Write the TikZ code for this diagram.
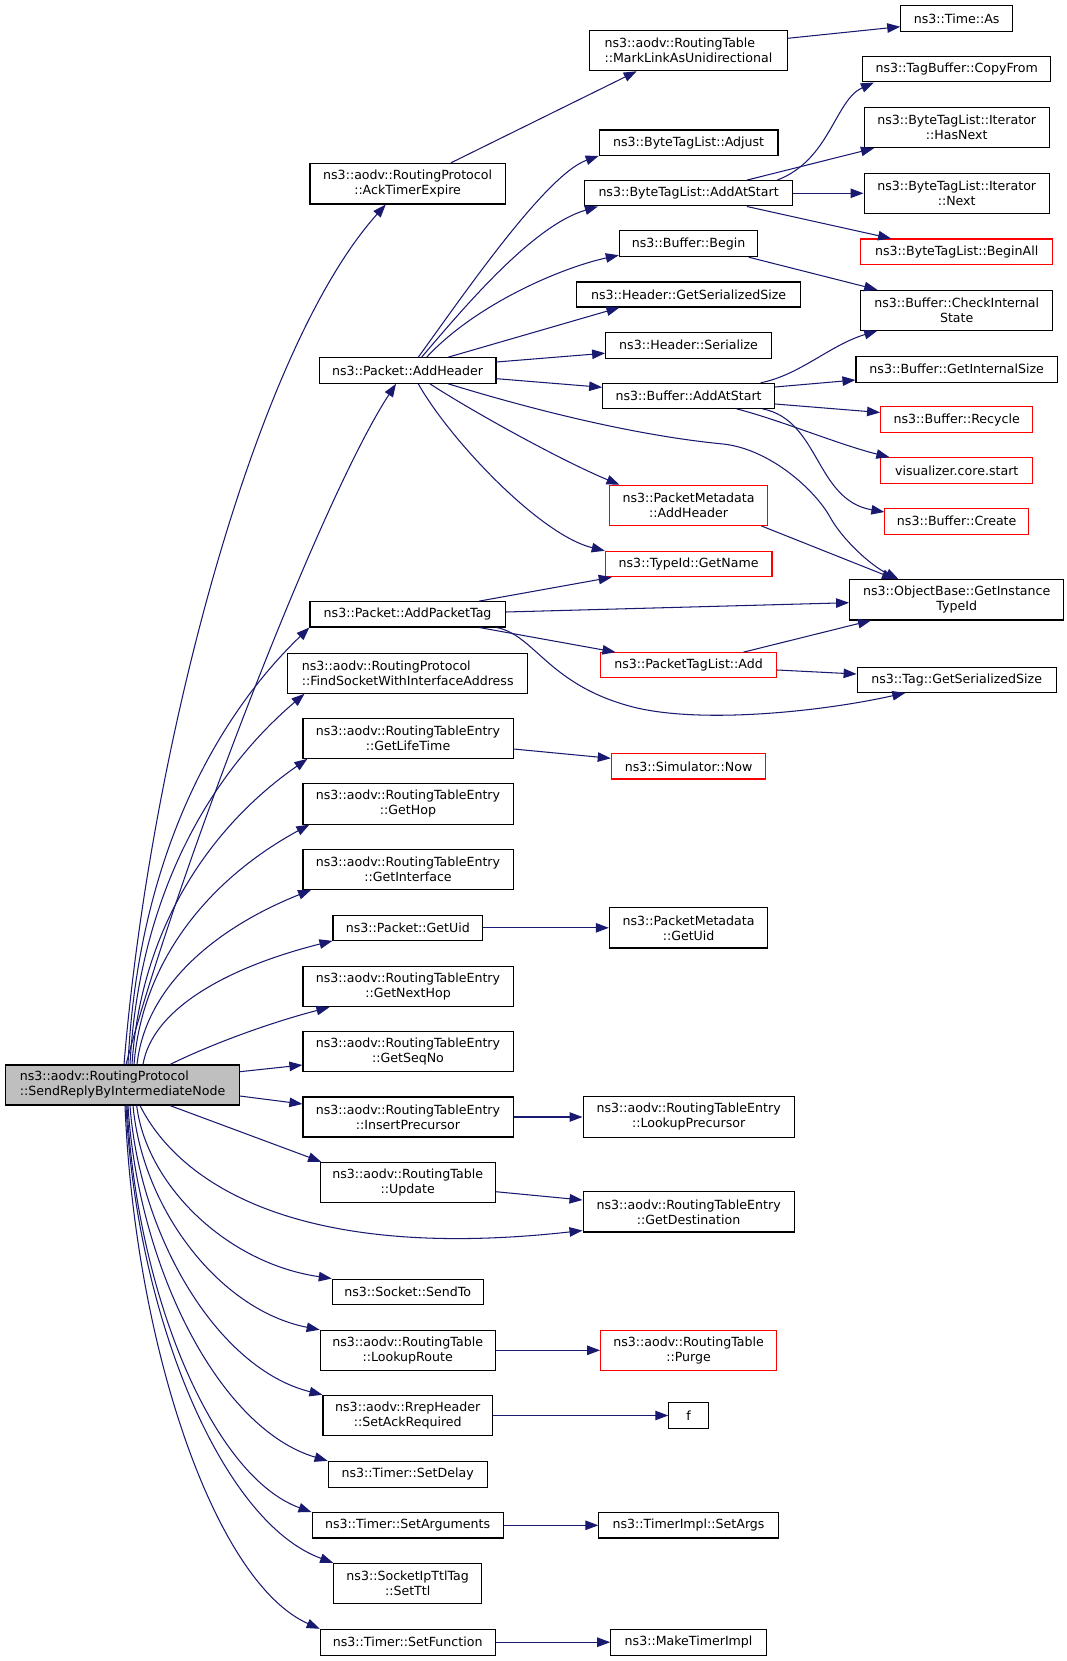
\documentclass[tikz,border=0pt]{standalone}
\usepackage{fontspec}
\setmainfont{DejaVu Sans}
\usetikzlibrary{arrows.meta,calc}
\definecolor{edgec}{HTML}{191970}
\definecolor{mainfill}{HTML}{BFBFBF}
\tikzset{
  fn/.style={draw=black, line width=1.1pt, fill=white, inner sep=0pt, align=center,
    font=\fontsize{12.6}{15}\selectfont, text=black},
  rn/.style={fn, draw=red},
  ln/.style={fn, align=left},
  ed/.style={draw=edgec, line width=1.05pt, -{Triangle[length=13pt,width=9.5pt]}},
  sz/.style 2 args={minimum width=#1pt, minimum height=#2pt}
}
\begin{document}
\begin{tikzpicture}[x=1pt,y=-1pt]
\useasboundingbox (0,0) rectangle (1067,1661);
% column 1
\node[ln, fill=mainfill, sz={233.4}{40}] (main) at (122.6,1085) {ns3::aodv::RoutingProtocol\\::SendReplyByIntermediateNode};
% column 2
\node[fn, sz={195.3}{40.7}] (ack) at (407.6,183.7) {ns3::aodv::RoutingProtocol\\::AckTimerExpire};
\node[fn, sz={176.7}{25.6}] (addh) at (407.6,370.5) {ns3::Packet::AddHeader};
\node[fn, sz={195.3}{25.3}] (apt) at (407.6,614.3) {ns3::Packet::AddPacketTag};
\node[ln, sz={240.4}{40}] (find) at (407.7,673.3) {ns3::aodv::RoutingProtocol\\::FindSocketWithInterfaceAddress};
\node[fn, sz={210.1}{40}] (life) at (408,738.3) {ns3::aodv::RoutingTableEntry\\::GetLifeTime};
\node[fn, sz={210.1}{40.7}] (hop) at (408,803.7) {ns3::aodv::RoutingTableEntry\\::GetHop};
\node[fn, sz={210.1}{40.3}] (iface) at (408,869.2) {ns3::aodv::RoutingTableEntry\\::GetInterface};
\node[fn, sz={149.8}{25}] (uid) at (407.9,927.8) {ns3::Packet::GetUid};
\node[fn, sz={210.1}{40}] (nexthop) at (408,986.7) {ns3::aodv::RoutingTableEntry\\::GetNextHop};
\node[fn, sz={210.1}{40}] (seqno) at (408,1051.7) {ns3::aodv::RoutingTableEntry\\::GetSeqNo};
\node[fn, sz={210.1}{40}] (insprec) at (408,1117) {ns3::aodv::RoutingTableEntry\\::InsertPrecursor};
\node[fn, sz={175}{40}] (update) at (407.7,1182.3) {ns3::aodv::RoutingTable\\::Update};
\node[fn, sz={150.8}{25.3}] (sendto) at (407.7,1291.7) {ns3::Socket::SendTo};
\node[fn, sz={175}{40}] (lookup) at (407.7,1350.3) {ns3::aodv::RoutingTable\\::LookupRoute};
\node[fn, sz={169.4}{40.4}] (ackreq) at (407.7,1415.5) {ns3::aodv::RrepHeader\\::SetAckRequired};
\node[fn, sz={159.1}{25.7}] (delay) at (407.7,1474.2) {ns3::Timer::SetDelay};
\node[fn, sz={191.1}{25.3}] (args) at (407.6,1525.3) {ns3::Timer::SetArguments};
\node[fn, sz={148}{40.4}] (ttl) at (407.7,1583.5) {ns3::SocketIpTtlTag\\::SetTtl};
\node[fn, sz={175}{25.7}] (func) at (407.7,1642.2) {ns3::Timer::SetFunction};
% column 3
\node[ln, sz={197.6}{40}] (mark) at (688.4,50.7) {ns3::aodv::RoutingTable\\::MarkLinkAsUnidirectional};
\node[fn, sz={178.7}{25.3}] (adjust) at (688.6,142.7) {ns3::ByteTagList::Adjust};
\node[fn, sz={208.3}{25.3}] (btlstart) at (688.6,193.3) {ns3::ByteTagList::AddAtStart};
\node[fn, sz={138.5}{25.7}] (begin) at (688.6,243.8) {ns3::Buffer::Begin};
\node[fn, sz={224.2}{25}] (hgss) at (688.6,294.5) {ns3::Header::GetSerializedSize};
\node[fn, sz={165.9}{25.7}] (hser) at (688.6,345.2) {ns3::Header::Serialize};
\node[fn, sz={171.8}{25}] (bstart) at (688.6,395.8) {ns3::Buffer::AddAtStart};
\node[rn, sz={158.1}{40}] (pmah) at (688.6,505.3) {ns3::PacketMetadata\\::AddHeader};
\node[rn, sz={166.7}{25.4}] (getname) at (688.6,564) {ns3::TypeId::GetName};
\node[rn, sz={176}{25}] (ptladd) at (688.6,665.2) {ns3::PacketTagList::Add};
\node[rn, sz={154.6}{25.3}] (now) at (688.6,766.3) {ns3::Simulator::Now};
\node[fn, sz={158.5}{40.3}] (pmuid) at (688.6,927.8) {ns3::PacketMetadata\\::GetUid};
\node[fn, sz={211.1}{40.3}] (lookprec) at (688.6,1117) {ns3::aodv::RoutingTableEntry\\::LookupPrecursor};
\node[fn, sz={211.1}{40.3}] (dest) at (688.6,1211.8) {ns3::aodv::RoutingTableEntry\\::GetDestination};
\node[rn, sz={176}{40}] (purge) at (688.6,1350.3) {ns3::aodv::RoutingTable\\::Purge};
\node[fn, sz={39.6}{25.3}] (f) at (688.6,1415.5) {f};
\node[fn, sz={179.4}{25.3}] (setargs) at (688.6,1525.3) {ns3::TimerImpl::SetArgs};
\node[fn, sz={155.7}{25.7}] (mti) at (688.6,1642.2) {ns3::MakeTimerImpl};
% column 4
\node[fn, sz={111.9}{25.6}] (timeas) at (956.7,18.5) {ns3::Time::As};
\node[fn, sz={188.1}{25.3}] (copyfrom) at (956.7,69.3) {ns3::TagBuffer::CopyFrom};
\node[fn, sz={185.3}{40}] (hasnext) at (956.7,127.7) {ns3::ByteTagList::Iterator\\::HasNext};
\node[fn, sz={185.3}{40}] (next) at (956.7,193.3) {ns3::ByteTagList::Iterator\\::Next};
\node[rn, sz={192.1}{25.3}] (beginall) at (956.7,251.7) {ns3::ByteTagList::BeginAll};
\node[fn, sz={191.8}{40}] (check) at (956.7,310.3) {ns3::Buffer::CheckInternal\\State};
\node[fn, sz={201.4}{25.7}] (gis) at (956.7,369.2) {ns3::Buffer::GetInternalSize};
\node[rn, sz={152.2}{26}] (recycle) at (956.7,419.7) {ns3::Buffer::Recycle};
\node[rn, sz={152.2}{25.6}] (vis) at (956.7,470.5) {visualizer.core.start};
\node[rn, sz={143.6}{25.7}] (create) at (956.7,521.2) {ns3::Buffer::Create};
\node[fn, sz={214.1}{40.3}] (objb) at (956.7,599.8) {ns3::ObjectBase::GetInstance\\TypeId};
\node[fn, sz={199.1}{25.3}] (tag) at (956.7,679.7) {ns3::Tag::GetSerializedSize};
% edges from main, upward
\draw[ed] ($(main.north)+(1.4,0)$) .. controls (150,750) and (255,350) .. ($(ack.south)+(-21.9,0)$);
\draw[ed] ($(main.north)+(3.4,0)$) .. controls (175,880) and (320,500) .. ($(addh.south)+(-11.6,0)$);
\draw[ed] ($(main.north)+(5.4,0)$) .. controls (137.1,867.9) and (209.9,723.4) .. (apt.south west);
\draw[ed] ($(main.north)+(7.4,0)$) .. controls (138.8,897.7) and (208.8,775.1) .. ($(find.south west)+(17.5,0)$);
\draw[ed] ($(main.north)+(9.4,0)$) .. controls (140.8,927) and (211.2,825.8) .. ($(life.south west)+(5,0)$);
\draw[ed] ($(main.north)+(11.4,0)$) .. controls (142.8,956.5) and (213.2,877) .. ($(hop.south west)+(7,0)$);
\draw[ed] ($(main.north)+(14.4,0)$) .. controls (145.7,986) and (215.6,928) .. ($(iface.south west)+(8.7,0)$);
\draw[ed] ($(main.north)+(20.4,0)$) .. controls (152.5,1008.5) and (228,967.1) .. (uid.south west);
\draw[ed] ($(main.north)+(47.4,0)$) .. controls (220,1040) and (280,1020) .. ($(nexthop.south west)+(27,0)$);
\draw[ed] ($(main.east)+(0,-13.3)$) -- ($(seqno.west)+(0,13.3)$);
\draw[ed] ($(main.east)+(0,11)$) -- ($(insprec.west)+(0,-13)$);
% edges from main, downward
\draw[ed] ($(main.south)+(47.4,0)$) -- ($(update.north west)+(1.5,0)$);
\draw[ed] ($(main.south)+(17.4,0)$) .. controls (180,1185) and (300,1262) .. ($(dest.south west)+(0,-2)$);
\draw[ed] ($(main.south)+(14.1,0)$) .. controls (146.5,1185) and (226.7,1263.3) .. (sendto.north west);
\draw[ed] ($(main.south)+(10.4,0)$) .. controls (142.4,1208.6) and (219.1,1310) .. (lookup.north west);
\draw[ed] ($(main.south)+(7.4,0)$) .. controls (139.7,1238.5) and (218.8,1369.2) .. (ackreq.north west);
\draw[ed] ($(main.south)+(5.4,0)$) .. controls (138,1268.9) and (220.1,1429.2) .. (delay.north west);
\draw[ed] ($(main.south)+(4.4,0)$) .. controls (136.3,1292.5) and (212.1,1476) .. (args.north west);
\draw[ed] ($(main.south)+(3.4,0)$) .. controls (136.4,1315.8) and (221.5,1522.1) .. (ttl.north west);
\draw[ed] ($(main.south)+(2.4,0)$) .. controls (134.8,1346.2) and (214.8,1582.1) .. (func.north west);
% other edges
\draw[ed] ($(ack.north)+(43.4,0)$) -- ($(mark.south)+(-51.7,0)$);
\draw[ed] ($(mark.east)+(0,-12.4)$) -- ($(timeas.west)+(0,8.2)$);
\draw[ed] ($(addh.north)+(10.7,0)$) .. controls (460,300) and (545,175) .. (adjust.south west);
\draw[ed] ($(addh.north)+(14.1,0)$) .. controls (470,300) and (535,225) .. ($(btlstart.south west)+(14,0)$);
\draw[ed] ($(addh.north)+(19.1,0)$) .. controls (475,305) and (560,268) .. ($(begin.south west)+(0,-2)$);
\draw[ed] ($(addh.north)+(40.7,0)$) -- ($(hgss.south west)+(43.5,0)$);
\draw[ed] ($(addh.east)+(0,-8.5)$) -- ($(hser.west)+(0,8)$);
\draw[ed] ($(addh.east)+(0,8.2)$) -- ($(bstart.west)+(0,-8.5)$);
\draw[ed] ($(addh.south)+(22.4,0)$) .. controls (470,410) and (560,460) .. ($(pmah.north west)+(10.5,0)$);
\draw[ed] ($(addh.south)+(10.7,0)$) .. controls (450,440) and (540,535) .. (getname.north west);
\draw[ed] ($(addh.south)+(40.7,0)$) .. controls (540,412) and (640,436) .. (723,444) .. controls (770,449) and (815,490) .. (830,517) .. controls (842,539) and (870,565) .. ($(objb.north)+(-58.2,0)$);
\draw[ed] ($(btlstart.north)+(88.6,0)$) .. controls (830,160) and (835,100) .. ($(copyfrom.south west)+(11.8,0)$);
\draw[ed] ($(btlstart.north)+(58.4,0)$) -- ($(hasnext.south west)+(10.4,0)$);
\draw[ed] (btlstart.east) -- (next.west);
\draw[ed] ($(btlstart.south)+(58.4,0)$) -- ($(beginall.north west)+(31,0)$);
\draw[ed] ($(begin.south)+(60.1,0)$) -- ($(check.north west)+(17,0)$);
\draw[ed] ($(bstart.north)+(72.1,0)$) .. controls (800,375) and (830,345) .. ($(check.south west)+(17,0)$);
\draw[ed] ($(bstart.east)+(0,-8.8)$) -- ($(gis.west)+(0,10.8)$);
\draw[ed] ($(bstart.east)+(0,8.2)$) -- ($(recycle.west)+(0,-7.2)$);
\draw[ed] ($(bstart.south)+(48,0)$) .. controls (780,420) and (840,445) .. ($(vis.north west)+(9.3,0)$);
\draw[ed] ($(bstart.south)+(73.8,0)$) .. controls (820,420) and (815,500) .. ($(create.west)+(0,-9.2)$);
\draw[ed] ($(pmah.south east)+(-7,0)$) -- ($(objb.north)+(-61.7,0)$);
\draw[ed] ($(apt.north east)+(-26.6,0)$) -- ($(getname.south west)+(7,0)$);
\draw[ed] ($(apt.east)+(0,-2.3)$) -- ($(objb.west)+(0,2.9)$);
\draw[ed] ($(apt.south east)+(-26.6,0)$) -- ($(ptladd.north west)+(15.4,0)$);
\draw[ed] ($(apt.south east)+(-9.3,0)$) .. controls (535,635) and (548,685) .. (633,707) .. controls (700,724) and (820,712) .. ($(tag.south)+(-51.4,0)$);
\draw[ed] ($(ptladd.north)+(54.9,0)$) -- ($(objb.south)+(-85.8,0)$);
\draw[ed] ($(ptladd.east)+(0,4.8)$) -- ($(tag.west)+(0,-5.7)$);
\draw[ed] ($(life.east)+(0,10.7)$) -- ($(now.west)+(0,-8)$);
\draw[ed] (uid.east) -- (pmuid.west);
\draw[ed] (insprec.east) -- (lookprec.west);
\draw[ed] ($(update.east)+(0,9.4)$) -- ($(dest.west)+(0,-11.8)$);
\draw[ed] (lookup.east) -- (purge.west);
\draw[ed] (ackreq.east) -- (f.west);
\draw[ed] (args.east) -- (setargs.west);
\draw[ed] (func.east) -- (mti.west);
\end{tikzpicture}
\end{document}
